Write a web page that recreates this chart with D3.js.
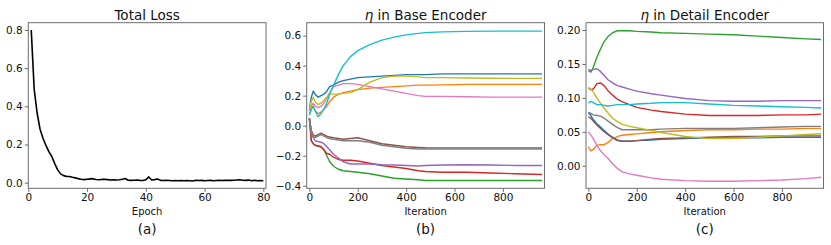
<!DOCTYPE html>
<html>
<head>
<meta charset="utf-8">
<script src="https://cdn.jsdelivr.net/npm/d3@7"></script>
<style>
  body { margin: 0; background: #fff; }
  svg { display: block; font-family: "DejaVu Sans", sans-serif; }
</style>
</head>
<body>
<script>
// ---- data ----
let lossEpochs = d3.range(1, 81);
let lossValues = [
    0.800, 0.490, 0.365, 0.280, 0.233, 0.195, 0.163, 0.137, 0.100, 0.067,
    0.046, 0.037, 0.033, 0.032, 0.028, 0.025, 0.021, 0.018, 0.016, 0.018,
    0.020, 0.021, 0.017, 0.015, 0.017, 0.018, 0.016, 0.014, 0.015, 0.014,
    0.015, 0.018, 0.022, 0.013, 0.012, 0.013, 0.014, 0.012, 0.011, 0.015,
    0.030, 0.014, 0.016, 0.019, 0.012, 0.011, 0.012, 0.011, 0.010, 0.011,
    0.010, 0.011, 0.010, 0.011, 0.010, 0.009, 0.013, 0.011, 0.012, 0.010,
    0.011, 0.012, 0.010, 0.011, 0.012, 0.011, 0.012, 0.013, 0.012, 0.013,
    0.014, 0.015, 0.013, 0.012, 0.014, 0.010, 0.013, 0.010, 0.011, 0.010
];

let tab10 = ["#1f77b4", "#ff7f0e", "#2ca02c", "#d62728", "#9467bd",
             "#8c564b", "#e377c2", "#7f7f7f", "#bcbd22", "#17becf"];

// base encoder (b)
let baseIters = [0, 8, 16, 24, 36, 48, 60, 72, 84, 100, 120, 140, 170, 200, 250, 300, 350, 400, 450, 480, 550, 650, 750, 850, 962];
let baseBlue   = [0.10, 0.19, 0.23, 0.21, 0.19, 0.20, 0.21, 0.23, 0.26, 0.27, 0.29, 0.30, 0.31, 0.32, 0.325, 0.33, 0.335, 0.34, 0.34, 0.34, 0.345, 0.345, 0.345, 0.345, 0.345];
let baseOrange = [0.08, 0.11, 0.13, 0.10, 0.08, 0.09, 0.11, 0.13, 0.16, 0.19, 0.21, 0.22, 0.23, 0.24, 0.25, 0.255, 0.26, 0.265, 0.27, 0.27, 0.272, 0.275, 0.275, 0.275, 0.275];
let baseGreen  = [0.05, -0.10, -0.12, -0.13, -0.135, -0.14, -0.16, -0.20, -0.24, -0.27, -0.29, -0.30, -0.305, -0.31, -0.32, -0.335, -0.35, -0.355, -0.36, -0.365, -0.365, -0.365, -0.365, -0.365, -0.365];
let baseRed    = [0.05, -0.10, -0.12, -0.13, -0.135, -0.14, -0.16, -0.185, -0.19, -0.21, -0.225, -0.23, -0.23, -0.235, -0.25, -0.265, -0.275, -0.285, -0.30, -0.305, -0.31, -0.31, -0.315, -0.32, -0.325];
let basePurple = [0.05, -0.05, -0.08, -0.10, -0.105, -0.11, -0.12, -0.14, -0.16, -0.19, -0.215, -0.24, -0.255, -0.255, -0.255, -0.26, -0.262, -0.265, -0.268, -0.265, -0.262, -0.26, -0.262, -0.265, -0.265];
let baseBrown  = [0.05, -0.03, -0.06, -0.07, -0.06, -0.05, -0.06, -0.07, -0.075, -0.08, -0.085, -0.09, -0.085, -0.08, -0.10, -0.12, -0.13, -0.14, -0.145, -0.147, -0.148, -0.148, -0.148, -0.148, -0.148];
let basePink   = [0.10, 0.13, 0.15, 0.13, 0.12, 0.13, 0.15, 0.18, 0.22, 0.26, 0.27, 0.28, 0.28, 0.275, 0.26, 0.245, 0.23, 0.215, 0.20, 0.195, 0.195, 0.193, 0.19, 0.19, 0.19];
let baseGray   = [0.05, -0.04, -0.07, -0.08, -0.07, -0.06, -0.07, -0.08, -0.085, -0.09, -0.095, -0.10, -0.10, -0.10, -0.11, -0.13, -0.14, -0.15, -0.155, -0.155, -0.155, -0.155, -0.155, -0.155, -0.155];
let baseOlive  = [0.10, 0.16, 0.19, 0.16, 0.14, 0.15, 0.17, 0.19, 0.21, 0.21, 0.21, 0.215, 0.22, 0.24, 0.29, 0.32, 0.33, 0.33, 0.325, 0.32, 0.32, 0.318, 0.316, 0.315, 0.315];
let baseCyan   = [0.07, 0.11, 0.13, 0.10, 0.06, 0.08, 0.11, 0.15, 0.21, 0.27, 0.34, 0.40, 0.46, 0.50, 0.54, 0.57, 0.59, 0.605, 0.615, 0.62, 0.625, 0.628, 0.63, 0.63, 0.63];

// detail encoder (c)
let detailIters = [0, 10, 20, 35, 50, 65, 80, 100, 120, 140, 170, 200, 260, 300, 400, 500, 600, 700, 800, 900, 962];
let detailBlue   = [0.078, 0.074, 0.068, 0.062, 0.057, 0.052, 0.047, 0.042, 0.038, 0.036, 0.036, 0.037, 0.038, 0.039, 0.040, 0.041, 0.041, 0.041, 0.042, 0.042, 0.042];
let detailOrange = [0.028, 0.022, 0.024, 0.030, 0.031, 0.031, 0.034, 0.040, 0.043, 0.045, 0.046, 0.047, 0.049, 0.050, 0.052, 0.053, 0.053, 0.054, 0.054, 0.055, 0.055];
let detailGreen  = [0.140, 0.138, 0.145, 0.160, 0.172, 0.183, 0.190, 0.196, 0.199, 0.199, 0.199, 0.198, 0.197, 0.196, 0.195, 0.194, 0.193, 0.191, 0.189, 0.187, 0.186];
let detailRed    = [0.115, 0.112, 0.113, 0.121, 0.122, 0.118, 0.111, 0.104, 0.098, 0.094, 0.090, 0.086, 0.082, 0.080, 0.076, 0.074, 0.074, 0.074, 0.075, 0.075, 0.076];
let detailPurple = [0.142, 0.140, 0.142, 0.143, 0.139, 0.133, 0.127, 0.122, 0.118, 0.116, 0.113, 0.110, 0.106, 0.104, 0.099, 0.096, 0.095, 0.095, 0.096, 0.096, 0.096];
let detailBrown  = [0.072, 0.070, 0.066, 0.060, 0.055, 0.050, 0.046, 0.041, 0.037, 0.036, 0.036, 0.037, 0.039, 0.040, 0.041, 0.042, 0.043, 0.043, 0.044, 0.044, 0.044];
let detailPink   = [0.050, 0.045, 0.040, 0.030, 0.022, 0.016, 0.011, 0.003, -0.004, -0.009, -0.012, -0.014, -0.018, -0.020, -0.022, -0.023, -0.023, -0.022, -0.021, -0.019, -0.017];
let detailGray   = [0.079, 0.077, 0.075, 0.074, 0.073, 0.070, 0.066, 0.061, 0.056, 0.053, 0.053, 0.053, 0.053, 0.054, 0.055, 0.055, 0.055, 0.056, 0.057, 0.058, 0.058];
let detailOlive  = [0.115, 0.113, 0.109, 0.100, 0.092, 0.085, 0.078, 0.070, 0.065, 0.061, 0.058, 0.056, 0.052, 0.049, 0.043, 0.040, 0.040, 0.042, 0.044, 0.046, 0.047];
let detailCyan   = [0.092, 0.095, 0.093, 0.090, 0.090, 0.089, 0.088, 0.089, 0.090, 0.090, 0.090, 0.091, 0.092, 0.093, 0.093, 0.091, 0.089, 0.088, 0.087, 0.086, 0.085];

let baseSeries = [baseBlue, baseOrange, baseGreen, baseRed, basePurple, baseBrown, basePink, baseGray, baseOlive, baseCyan];
let detailSeries = [detailBlue, detailOrange, detailGreen, detailRed, detailPurple, detailBrown, detailPink, detailGray, detailOlive, detailCyan];

let lossTicksX = [0, 20, 40, 60, 80];
let lossTicksY = [0.0, 0.2, 0.4, 0.6, 0.8];
let iterTicks = [0, 200, 400, 600, 800];
let baseTicksY = [-0.4, -0.2, 0.0, 0.2, 0.4, 0.6];
let detailTicksY = [0.00, 0.05, 0.10, 0.15, 0.20];

// ---- drawing ----
let svg = d3.select("body").append("svg").attr("width", 831).attr("height", 245);
let plotTop = 22.7, plotBottom = 188.3;
let fmtMinus = f => v => f(v).replace("-", "\u2212");

function panel(cfg) {
    let x = d3.scaleLinear().domain(cfg.xDomain).range([cfg.left, cfg.right]);
    let y = d3.scaleLinear().domain(cfg.yDomain).range([plotBottom, plotTop]);
    let g = svg.append("g");

    let clipId = "clip" + cfg.id;
    svg.append("clipPath").attr("id", clipId).append("rect")
        .attr("x", cfg.left).attr("y", plotTop).attr("width", cfg.right - cfg.left).attr("height", plotBottom - plotTop);

    let plot = g.append("g").attr("clip-path", `url(#${clipId})`);
    let line = d3.line().x(d => x(d[0])).y(d => y(d[1]));
    cfg.series.forEach(s => {
        plot.append("path").datum(s.xs.map((v, i) => [v, s.ys[i]]))
            .attr("d", line).attr("fill", "none").attr("stroke", s.color)
            .attr("stroke-width", s.width || 1.4).attr("stroke-linejoin", "round");
    });

    let xAxis = g.append("g").attr("transform", `translate(0,${plotBottom})`)
        .call(d3.axisBottom(x).tickValues(cfg.xTicks).tickSize(3.5).tickPadding(2).tickFormat(d3.format("d")));
    let yAxis = g.append("g").attr("transform", `translate(${cfg.left},0)`)
        .call(d3.axisLeft(y).tickValues(cfg.yTicks).tickSize(3.5).tickPadding(2).tickFormat(fmtMinus(d3.format(cfg.yFmt))));
    [xAxis, yAxis].forEach(a => {
        a.select(".domain").remove();
        a.selectAll("line").attr("stroke", "#444").attr("stroke-width", 0.8);
        a.selectAll("text").attr("font-size", 10.5).attr("fill", "#111").attr("font-family", "DejaVu Sans");
    });

    g.append("rect").attr("x", cfg.left).attr("y", plotTop)
        .attr("width", cfg.right - cfg.left).attr("height", plotBottom - plotTop)
        .attr("fill", "none").attr("stroke", "#6d6d6d").attr("stroke-width", 1);

    let cx = (cfg.left + cfg.right) / 2;
    let title = g.append("text").attr("x", cx).attr("y", 19.5).attr("text-anchor", "middle")
        .attr("font-size", 13.5).attr("fill", "#111");
    if (cfg.eta) {
        title.append("tspan").attr("font-style", "italic").text("\u03b7");
        title.append("tspan").text(" " + cfg.title);
    } else {
        title.text(cfg.title);
    }
    g.append("text").attr("x", cx).attr("y", 214.5).attr("text-anchor", "middle")
        .attr("font-size", 10).attr("fill", "#111").text(cfg.xLabel);
    g.append("text").attr("x", cx).attr("y", 234).attr("text-anchor", "middle")
        .attr("font-size", 13.5).attr("fill", "#111").text(cfg.caption);
}

panel({
    id: "a", left: 28.3, right: 266, xDomain: [0, 80.9], yDomain: [-0.0295, 0.838],
    xTicks: lossTicksX, yTicks: lossTicksY, yFmt: ".1f",
    series: [{xs: lossEpochs, ys: lossValues, color: "#000", width: 1.6}],
    title: "Total Loss", xLabel: "Epoch", caption: "(a)"
});
panel({
    id: "b", left: 306.7, right: 544.5, xDomain: [-11, 972], yDomain: [-0.417, 0.686],
    xTicks: iterTicks, yTicks: baseTicksY, yFmt: ".1f",
    series: baseSeries.map((ys, i) => ({xs: baseIters, ys: ys, color: tab10[i]})),
    title: "in Base Encoder", eta: true, xLabel: "Iteration", caption: "(b)"
});
panel({
    id: "c", left: 586, right: 823.5, xDomain: [-10, 972], yDomain: [-0.0333, 0.2108],
    xTicks: iterTicks, yTicks: detailTicksY, yFmt: ".2f",
    series: detailSeries.map((ys, i) => ({xs: detailIters, ys: ys, color: tab10[i]})),
    title: "in Detail Encoder", eta: true, xLabel: "Iteration", caption: "(c)"
});
</script>
</body>
</html>
